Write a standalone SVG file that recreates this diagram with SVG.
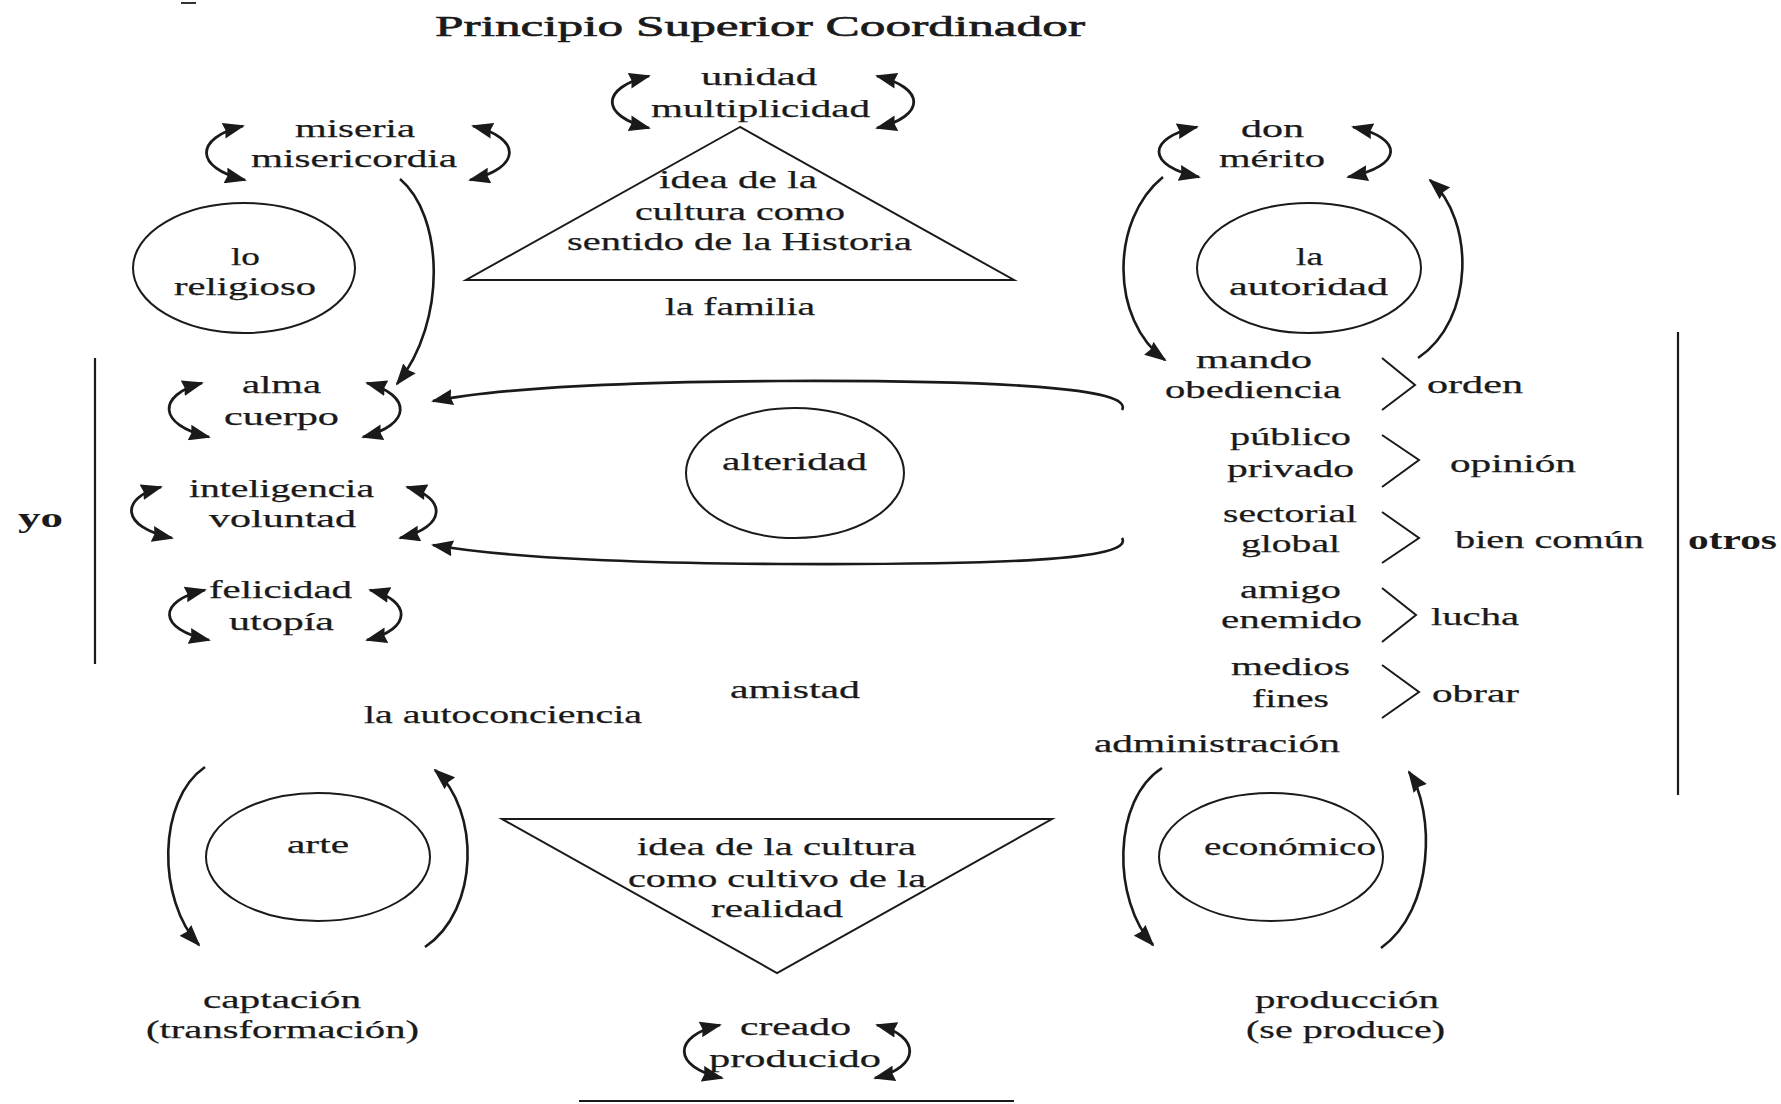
<svg xmlns="http://www.w3.org/2000/svg" width="1781" height="1104" viewBox="0 0 1781 1104">
<style>
text{font-family:"Liberation Serif","DejaVu Serif",serif;font-size:26px;fill:#1a1a1a;stroke:#1a1a1a;stroke-width:0.25}
.t{font-size:30px;stroke-width:0.6}
.b{font-weight:bold;font-size:27px;stroke-width:0}
.ln{fill:none;stroke:#1a1a1a;stroke-width:2.2}
.sh{fill:none;stroke:#1a1a1a;stroke-width:2}
.ar{fill:none;stroke:#1a1a1a;stroke-width:2.8;marker-start:url(#ah);marker-end:url(#ah)}
.ae{fill:none;stroke:#1a1a1a;stroke-width:2.6;marker-end:url(#ah)}
</style>
<defs>
<marker id="ah" viewBox="0 0 22 16" refX="20" refY="8" markerWidth="22" markerHeight="16" markerUnits="userSpaceOnUse" orient="auto-start-reverse">
<path d="M0,0 L22,8 L0,16 L2,8 z" fill="#1a1a1a"/>
</marker>
</defs>
<rect width="1781" height="1104" fill="#fff"/>
<line x1="181" y1="3" x2="196" y2="3" stroke="#333" stroke-width="2"/>
<g id="title"><text class="t" x="435" y="36" textLength="650" lengthAdjust="spacingAndGlyphs">Principio Superior Coordinador</text></g>

<g id="unidad">
<text x="701" y="85" textLength="116" lengthAdjust="spacingAndGlyphs">unidad</text>
<text x="651" y="117" textLength="219" lengthAdjust="spacingAndGlyphs">multiplicidad</text>
</g>
<g id="miseria">
<text x="295" y="137" textLength="120" lengthAdjust="spacingAndGlyphs">miseria</text>
<text x="251" y="167" textLength="206" lengthAdjust="spacingAndGlyphs">misericordia</text>
</g>
<g id="religioso">
<ellipse class="sh" cx="244" cy="268" rx="111" ry="65"/>
<text x="231" y="265" textLength="29" lengthAdjust="spacingAndGlyphs">lo</text>
<text x="174" y="295" textLength="142" lengthAdjust="spacingAndGlyphs">religioso</text>
</g>
<g id="historia">
<polygon class="sh" points="740,127 466,280 1014,280"/>
<text x="659" y="188" textLength="158" lengthAdjust="spacingAndGlyphs">idea de la</text>
<text x="635" y="220" textLength="210" lengthAdjust="spacingAndGlyphs">cultura como</text>
<text x="567" y="250" textLength="345" lengthAdjust="spacingAndGlyphs">sentido de la Historia</text>
</g>
<g id="familia"><text x="665" y="315" textLength="150" lengthAdjust="spacingAndGlyphs">la familia</text></g>
<g id="don">
<text x="1241" y="137" textLength="63" lengthAdjust="spacingAndGlyphs">don</text>
<text x="1219" y="167" textLength="106" lengthAdjust="spacingAndGlyphs">mérito</text>
</g>
<g id="autoridad">
<ellipse class="sh" cx="1309" cy="268" rx="112" ry="65"/>
<text x="1296" y="265" textLength="27" lengthAdjust="spacingAndGlyphs">la</text>
<text x="1229" y="295" textLength="159" lengthAdjust="spacingAndGlyphs">autoridad</text>
</g>
<g id="yo">
<text class="b" x="18" y="527" textLength="45" lengthAdjust="spacingAndGlyphs">yo</text>
<line class="ln" x1="95" y1="358" x2="95" y2="664"/>
</g>
<g id="alma">
<text x="242" y="393" textLength="79" lengthAdjust="spacingAndGlyphs">alma</text>
<text x="224" y="425" textLength="115" lengthAdjust="spacingAndGlyphs">cuerpo</text>
</g>
<g id="inteligencia">
<text x="189" y="497" textLength="185" lengthAdjust="spacingAndGlyphs">inteligencia</text>
<text x="209" y="527" textLength="147" lengthAdjust="spacingAndGlyphs">voluntad</text>
</g>
<g id="felicidad">
<text x="209" y="598" textLength="143" lengthAdjust="spacingAndGlyphs">felicidad</text>
<text x="229" y="630" textLength="105" lengthAdjust="spacingAndGlyphs">utopía</text>
</g>
<g id="alteridad">
<ellipse class="sh" cx="795" cy="473" rx="109" ry="65"/>
<text x="722" y="470" textLength="145" lengthAdjust="spacingAndGlyphs">alteridad</text>
</g>
<g id="amistad"><text x="730" y="698" textLength="130" lengthAdjust="spacingAndGlyphs">amistad</text></g>
<g id="autoconciencia"><text x="364" y="723" textLength="278" lengthAdjust="spacingAndGlyphs">la autoconciencia</text></g>
<g id="mando">
<text x="1196" y="368" textLength="116" lengthAdjust="spacingAndGlyphs">mando</text>
<text x="1165" y="398" textLength="176" lengthAdjust="spacingAndGlyphs">obediencia</text>
<polyline class="sh" points="1382,358 1415,385 1382,410"/>
<text x="1427" y="393" textLength="96" lengthAdjust="spacingAndGlyphs">orden</text>
</g>
<g id="publico">
<text x="1230" y="445" textLength="121" lengthAdjust="spacingAndGlyphs">público</text>
<text x="1227" y="477" textLength="127" lengthAdjust="spacingAndGlyphs">privado</text>
<polyline class="sh" points="1382,435 1419,460 1382,487"/>
<text x="1450" y="472" textLength="126" lengthAdjust="spacingAndGlyphs">opinión</text>
</g>
<g id="sectorial">
<text x="1223" y="522" textLength="134" lengthAdjust="spacingAndGlyphs">sectorial</text>
<text x="1241" y="552" textLength="99" lengthAdjust="spacingAndGlyphs">global</text>
<polyline class="sh" points="1382,512 1419,538 1382,563"/>
<text x="1455" y="548" textLength="189" lengthAdjust="spacingAndGlyphs">bien común</text>
</g>
<g id="amigo">
<text x="1240" y="598" textLength="101" lengthAdjust="spacingAndGlyphs">amigo</text>
<text x="1221" y="628" textLength="141" lengthAdjust="spacingAndGlyphs">enemido</text>
<polyline class="sh" points="1382,588 1416,615 1382,642"/>
<text x="1431" y="625" textLength="88" lengthAdjust="spacingAndGlyphs">lucha</text>
</g>
<g id="medios">
<text x="1231" y="675" textLength="119" lengthAdjust="spacingAndGlyphs">medios</text>
<text x="1252" y="707" textLength="77" lengthAdjust="spacingAndGlyphs">fines</text>
<polyline class="sh" points="1382,665 1419,692 1382,718"/>
<text x="1432" y="702" textLength="87" lengthAdjust="spacingAndGlyphs">obrar</text>
</g>
<g id="otros">
<line class="ln" x1="1678" y1="332" x2="1678" y2="795"/>
<text class="b" x="1688" y="549" textLength="89" lengthAdjust="spacingAndGlyphs">otros</text>
</g>
<g id="administracion"><text x="1094" y="752" textLength="246" lengthAdjust="spacingAndGlyphs">administración</text></g>
<g id="arte">
<ellipse class="sh" cx="318" cy="857" rx="112" ry="64"/>
<text x="287" y="853" textLength="62" lengthAdjust="spacingAndGlyphs">arte</text>
</g>
<g id="realidad">
<polygon class="sh" points="502,819 1052,819 777,973"/>
<text x="637" y="855" textLength="279" lengthAdjust="spacingAndGlyphs">idea de la cultura</text>
<text x="628" y="887" textLength="298" lengthAdjust="spacingAndGlyphs">como cultivo de la</text>
<text x="711" y="917" textLength="132" lengthAdjust="spacingAndGlyphs">realidad</text>
</g>
<g id="economico">
<ellipse class="sh" cx="1271" cy="857" rx="112" ry="64"/>
<text x="1204" y="855" textLength="172" lengthAdjust="spacingAndGlyphs">económico</text>
</g>
<g id="captacion">
<text x="203" y="1008" textLength="158" lengthAdjust="spacingAndGlyphs">captación</text>
<text x="146" y="1038" textLength="273" lengthAdjust="spacingAndGlyphs">(transformación)</text>
</g>
<g id="creado">
<text x="740" y="1035" textLength="111" lengthAdjust="spacingAndGlyphs">creado</text>
<text x="709" y="1067" textLength="172" lengthAdjust="spacingAndGlyphs">producido</text>
<line class="ln" x1="579" y1="1101" x2="1014" y2="1101"/>
</g>
<g id="produccion">
<text x="1255" y="1008" textLength="184" lengthAdjust="spacingAndGlyphs">producción</text>
<text x="1246" y="1038" textLength="199" lengthAdjust="spacingAndGlyphs">(se produce)</text>
</g>

<g id="connectors">
<path class="ar" d="M649,76 C600,88 600,116 649,128"/>
<path class="ar" d="M877,76 C926,88 926,116 877,128"/>
<path class="ar" d="M243,126 C194,138 194,168 245,180"/>
<path class="ar" d="M473,126 C522,138 522,168 470,180"/>
<path class="ar" d="M1197,127 C1146,138 1146,166 1199,177"/>
<path class="ar" d="M1353,127 C1404,138 1404,166 1348,177"/>
<path class="ar" d="M202,383 C157,395 157,425 209,437"/>
<path class="ar" d="M367,383 C412,395 412,425 363,437"/>
<path class="ar" d="M161,487 C120,498 120,527 172,538"/>
<path class="ar" d="M407,487 C447,498 447,527 400,538"/>
<path class="ar" d="M205,590 C157,601 157,629 209,640"/>
<path class="ar" d="M370,590 C412,601 412,629 367,640"/>
<path class="ar" d="M720,1025 C672,1036 672,1067 722,1078"/>
<path class="ar" d="M877,1025 C921,1036 921,1067 875,1078"/>
<path class="ae" d="M400,179 C443,215 448,320 397,384"/>
<path class="ae" d="M1163,177 C1110,220 1110,320 1165,360"/>
<path class="ae" d="M1418,358 C1475,320 1475,220 1430,180"/>
<path class="ae" d="M1122,410 C1135,388 1000,380 780,381 C600,382 490,390 433,401"/>
<path class="ae" d="M1122,538 C1135,560 1000,565 780,564 C600,563 490,555 433,545"/>
<path class="ae" d="M205,767 C157,800 157,900 199,945"/>
<path class="ae" d="M425,947 C480,910 480,810 435,770"/>
<path class="ae" d="M1162,768 C1112,800 1112,900 1153,945"/>
<path class="ae" d="M1381,948 C1435,910 1435,810 1409,772"/>
</g>
</svg>
